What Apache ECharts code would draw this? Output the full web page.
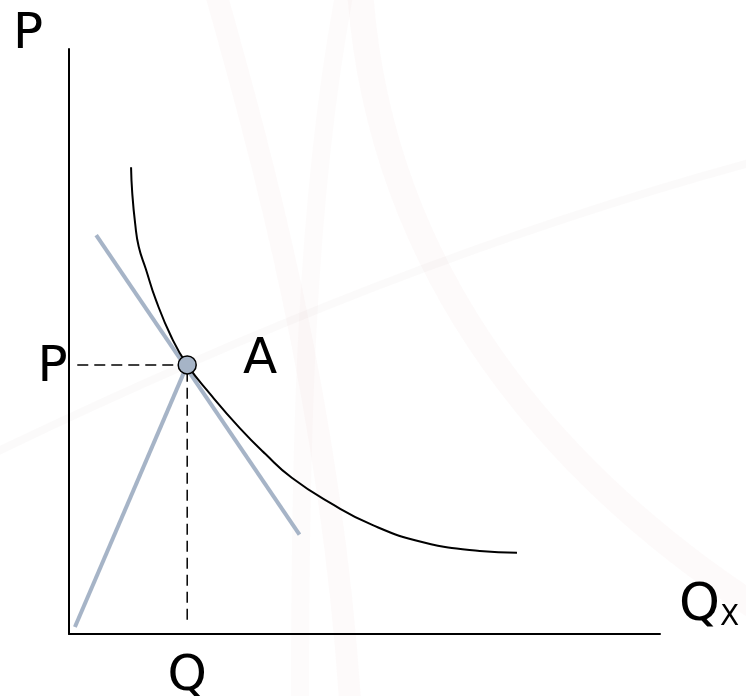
<!DOCTYPE html>
<html>
<head>
<meta charset="utf-8">
<script src="https://cdn.jsdelivr.net/npm/echarts@6/dist/echarts.min.js"></script>
<style>
  html, body { margin: 0; padding: 0; background: #ffffff; }
  #chart { width: 746px; height: 696px; }
</style>
</head>
<body>
<div id="chart"></div>
<script>
// Demand curve (quantity, price) on a 0–100 scale
const curveQ = [10.5, 10.7, 11.2, 11.8, 13.0, 14.7, 17.4, 20.0, 23.9, 28.9, 33.2, 37.7, 44.2, 51.4, 59.9, 69.5, 75.8];
const curveP = [79.8, 75.4, 70.1, 66.2, 62.4, 57.1, 50.6, 46.0, 41.0, 35.2, 30.8, 26.7, 22.4, 18.6, 15.7, 14.2, 13.9];

// Point A on the curve
const pointA = [20.0, 46.0];

// Tangent line through A
const tangentQ = [4.6, 39.0];
const tangentP = [68.2, 17.0];

// Ray from the origin to A
const rayQ = [1.0, 20.0];
const rayP = [1.2, 46.0];

// Guide lines from A to the axes
const guideH = [[1.4, 46.0], [19.0, 46.0]];
const guideV = [[20.0, 45.0], [20.0, 1.5]];

// Text
const yAxisName = 'P';
const xAxisMain = 'Q';
const xAxisSub = 'X';
const priceLabel = 'P';
const qtyLabel = 'Q';
const pointLabel = 'A';

const FONT = 'DejaVu Sans';
const BLUE_GRAY = '#a6b4c7';

const zip = (a, b) => a.map((v, i) => [v, b[i]]);

const labelText = { fontFamily: FONT, fontSize: 50, color: '#000000', textBorderWidth: 0 };

const chart = echarts.init(document.getElementById('chart'), null, { renderer: 'canvas' });

const option = {
  backgroundColor: '#ffffff',
  animation: false,
  graphic: [
    // faint decorative swooshes in the background
    { type: 'bezierCurve', z: -10, silent: true,
      shape: { x1: -10, y1: 455, cpx1: 250, cpy1: 330, cpx2: 500, cpy2: 230, x2: 760, y2: 160 },
      style: { stroke: 'rgba(200,190,190,0.08)', lineWidth: 8, fill: null } },
    { type: 'bezierCurve', z: -10, silent: true,
      shape: { x1: 215, y1: -10, cpx1: 260, cpy1: 150, cpx2: 330, cpy2: 400, x2: 350, y2: 700 },
      style: { stroke: 'rgba(205,120,120,0.035)', lineWidth: 22, fill: null } },
    { type: 'bezierCurve', z: -10, silent: true,
      shape: { x1: 345, y1: -10, cpx1: 305, cpy1: 200, cpx2: 300, cpy2: 450, x2: 300, y2: 700 },
      style: { stroke: 'rgba(205,120,120,0.03)', lineWidth: 18, fill: null } },
    { type: 'bezierCurve', z: -10, silent: true,
      shape: { x1: 360, y1: -10, cpx1: 380, cpy1: 280, cpx2: 560, cpy2: 480, x2: 760, y2: 610 },
      style: { stroke: 'rgba(205,120,120,0.035)', lineWidth: 26, fill: null } }
  ],
  grid: { left: 69, right: 86, top: 49, bottom: 62, containLabel: false, outerBoundsMode: 'none' },
  xAxis: {
    type: 'value', min: 0, max: 100,
    name: '{q|' + xAxisMain + '}{x|' + xAxisSub + '}',
    nameLocation: 'end', nameGap: 19,
    nameTextStyle: {
      align: 'left', verticalAlign: 'middle', padding: [0, 0, 54, 0],
      rich: {
        q: { fontFamily: FONT, fontSize: 52, color: '#000', verticalAlign: 'bottom', lineHeight: 50 },
        x: { fontFamily: FONT, fontSize: 28, color: '#000', verticalAlign: 'bottom', lineHeight: 38 }
      }
    },
    axisLine: { show: true, lineStyle: { color: '#000', width: 2 } },
    axisTick: { show: false }, axisLabel: { show: false }, splitLine: { show: false }
  },
  yAxis: {
    type: 'value', min: 0, max: 100,
    name: yAxisName,
    nameLocation: 'end', nameGap: 14,
    nameTextStyle: {
      fontFamily: FONT, fontSize: 50, color: '#000',
      align: 'center', verticalAlign: 'middle', padding: [0, 82, 0, 0]
    },
    axisLine: { show: true, lineStyle: { color: '#000', width: 2 } },
    axisTick: { show: false }, axisLabel: { show: false }, splitLine: { show: false }
  },
  series: [
    {
      name: 'ray', type: 'line', data: zip(rayQ, rayP), showSymbol: false, z: 3,
      lineStyle: { color: BLUE_GRAY, width: 4 }
    },
    {
      name: 'tangent', type: 'line', data: zip(tangentQ, tangentP), showSymbol: false, z: 3,
      lineStyle: { color: BLUE_GRAY, width: 4 }
    },
    {
      name: 'demand', type: 'line', data: zip(curveQ, curveP), smooth: 0.5,
      showSymbol: false, z: 4,
      lineStyle: { color: '#000', width: 2 }
    },
    {
      name: 'guideH', type: 'line', z: 3,
      symbol: 'circle', symbolSize: 1, showSymbol: true,
      itemStyle: { color: 'rgba(0,0,0,0)', opacity: 1 },
      data: [
        { value: guideH[0], label: Object.assign({ show: true, formatter: priceLabel, position: 'left',
          distance: 9, offset: [0, 3] }, labelText) },
        { value: guideH[1] }
      ],
      lineStyle: { color: '#000', width: 1.5, type: [11, 6] }
    },
    {
      name: 'guideV', type: 'line', z: 3,
      symbol: 'circle', symbolSize: 1, showSymbol: true,
      itemStyle: { color: 'rgba(0,0,0,0)', opacity: 1 },
      data: [
        { value: guideV[0] },
        { value: guideV[1], label: Object.assign({ show: true, formatter: qtyLabel, position: 'bottom',
          distance: 26 }, labelText) }
      ],
      lineStyle: { color: '#000', width: 1.5, type: [11, 6] }
    },
    {
      name: 'A', type: 'scatter', data: [pointA], symbol: 'circle', symbolSize: 18, z: 5,
      itemStyle: { color: BLUE_GRAY, borderColor: '#000', borderWidth: 1.5, opacity: 1 },
      label: Object.assign({ show: true, formatter: pointLabel, position: 'right', distance: 46,
        offset: [0, -5] }, labelText)
    }
  ]
};

chart.setOption(option);
</script>
</body>
</html>
